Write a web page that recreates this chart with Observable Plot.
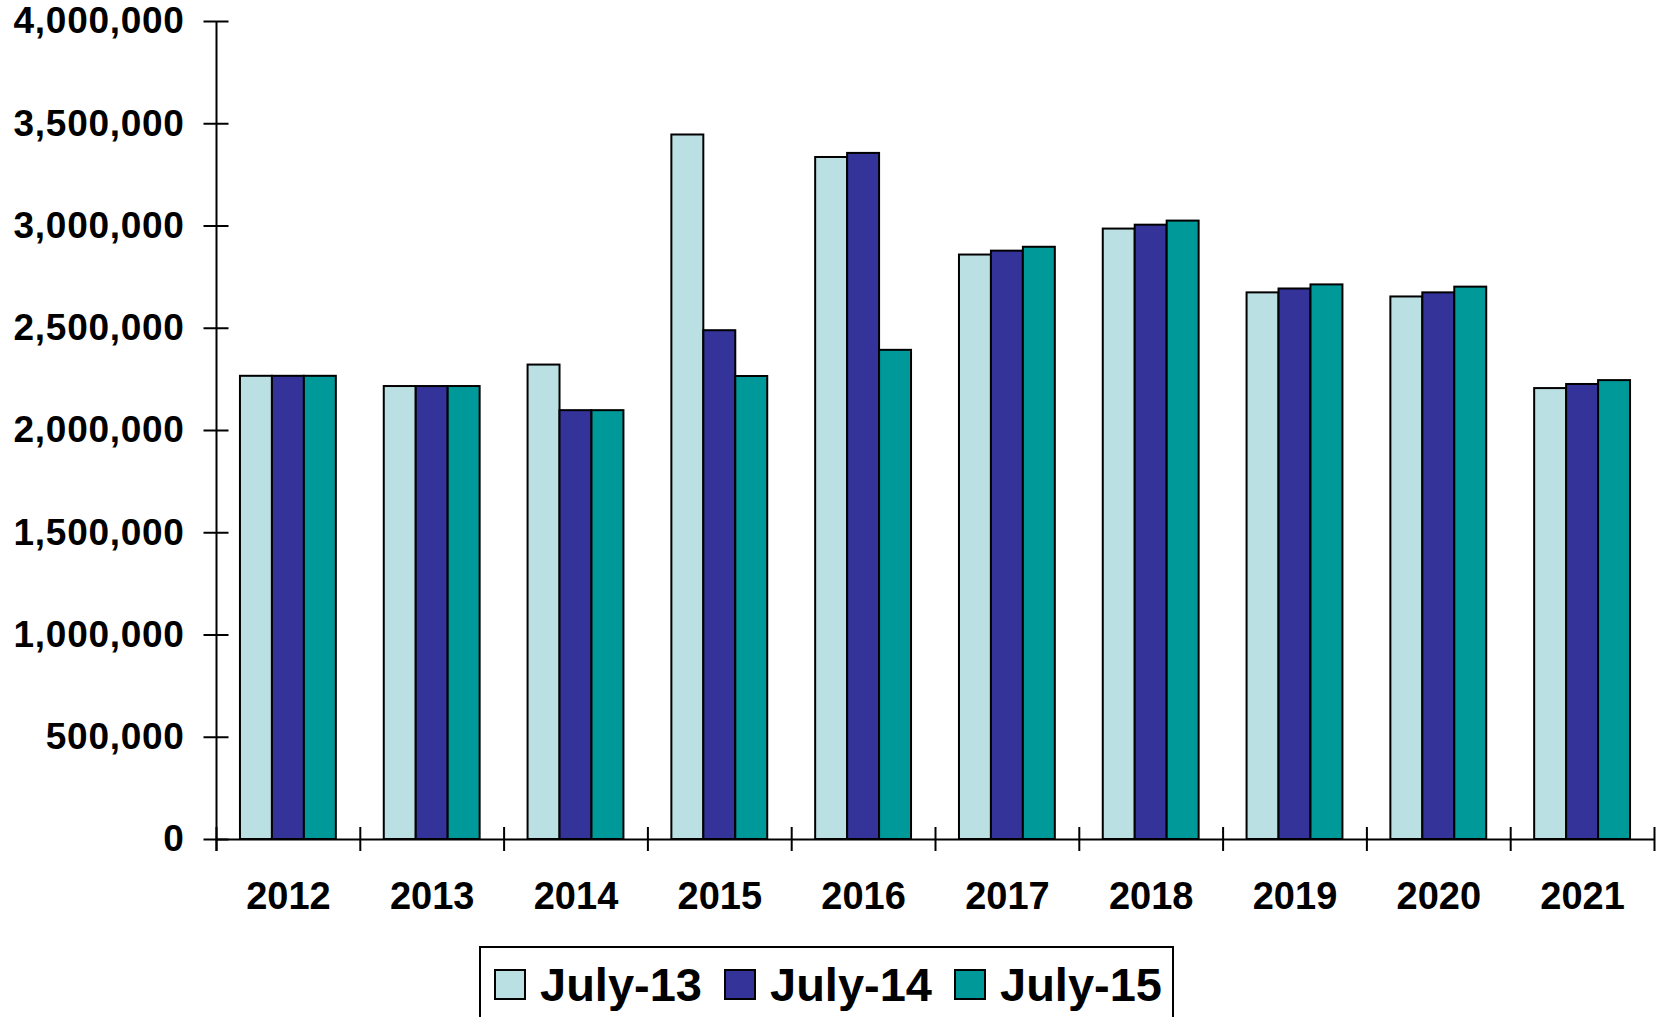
<!DOCTYPE html>
<html>
<head>
<meta charset="utf-8">
<script src="https://cdn.jsdelivr.net/npm/d3@7"></script>
<script src="https://cdn.jsdelivr.net/npm/@observablehq/plot@0.6"></script>
<style>
  html, body { margin: 0; padding: 0; background: #fff; overflow: hidden; }
  #chart svg { display: block; }
  #chart svg g[aria-label="y-axis tick label"] text { letter-spacing: 0.7px; }
  .legend {
    box-sizing: border-box;
    margin: 16px 0 0 479px;
    width: 695px;
    height: 80px;
    border: 2px solid #000;
    display: flex;
    padding: 21px 0 0 13px;
    font: bold 47px "Liberation Sans", Arial, sans-serif;
    color: #000;
  }
  .legend .item { width: 230px; height: 31px; display: flex; align-items: center; flex: none; }
  .legend .swatch { box-sizing: border-box; width: 32px; height: 31px; border: 2px solid #000; margin-right: 14px; flex: none; }
  .legend .label { line-height: 1; white-space: nowrap; }
</style>
</head>
<body>
<div id="chart"></div>
<div class="legend" id="legend"></div>
<script>
// Categories and series
const years = ["2012", "2013", "2014", "2015", "2016", "2017", "2018", "2019", "2020", "2021"];
const seriesNames = ["July-13", "July-14", "July-15"];
const seriesColors = ["#BBE0E3", "#333399", "#009999"];

const july13 = [2265000, 2215000, 2320000, 3445000, 3335000, 2858000, 2985000, 2673000, 2653000, 2205000];
const july14 = [2265000, 2215000, 2097000, 2488000, 3355000, 2877000, 3004000, 2692000, 2673000, 2225000];
const july15 = [2265000, 2215000, 2097000, 2264000, 2392000, 2896000, 3024000, 2712000, 2701000, 2244000];

const yTicks = [0, 500000, 1000000, 1500000, 2000000, 2500000, 3000000, 3500000, 4000000];

// Long table: one row per bar
const seriesValues = [july13, july14, july15];
const rows = [];
years.forEach((year, i) => {
  seriesNames.forEach((name, s) => {
    rows.push({i, s, year, series: name, value: seriesValues[s][i]});
  });
});

// Clustered layout: gap between clusters is 50% of a bar group
const gapWidth = 0.5;
const groupFrac = 1 / (1 + gapWidth);
const barFrac = groupFrac / seriesNames.length;
const lead = (1 - groupFrac) / 2;

const boundaries = d3.range(years.length + 1).map((k) => k - 0.5);
const font = '"Liberation Sans", Arial, sans-serif';

const chart = Plot.plot({
  width: 1658,
  height: 930,
  marginLeft: 216,
  marginRight: 4,
  marginTop: 21,
  marginBottom: 91,
  style: {fontFamily: font, fontWeight: "bold", fontSize: "37px", color: "#000", background: "#fff", overflow: "visible"},
  x: {domain: [-0.5, years.length - 0.5]},
  y: {domain: [0, 4000000]},
  color: {domain: seriesNames, range: seriesColors},
  marks: [
    Plot.rectY(rows, {
      x1: (d) => d.i - 0.5 + lead + d.s * barFrac,
      x2: (d) => d.i - 0.5 + lead + (d.s + 1) * barFrac,
      y1: 0,
      y2: "value",
      fill: "series",
      stroke: "#000",
      strokeWidth: 2
    }),
    // value axis line and crossing ticks
    Plot.ruleX([-0.5], {y1: 0, y2: 4000000, insetTop: 12, stroke: "#000", strokeWidth: 2}),
    Plot.ruleY(yTicks, {y: (d) => d, x1: -0.5, x2: -0.5, insetLeft: -12.5, insetRight: -12.5, stroke: "#000", strokeWidth: 2}),
    // category axis line and crossing ticks at cluster boundaries
    Plot.ruleY([0], {x1: -0.5, x2: years.length - 0.5, stroke: "#000", strokeWidth: 2}),
    Plot.ruleX(boundaries, {x: (d) => d, y1: 0, y2: 0, insetTop: -12, insetBottom: -12, stroke: "#000", strokeWidth: 2}),
    Plot.axisY(yTicks, {
      tickSize: 0,
      tickPadding: 32,
      tickFormat: d3.format(","),
      fontSize: 37,
      fontWeight: "bold",
      label: null
    }),
    Plot.axisX(d3.range(years.length), {
      tickSize: 0,
      tickPadding: 43,
      tickFormat: (i) => years[i],
      fontSize: 38,
      fontWeight: "bold",
      label: null
    })
  ]
});

document.getElementById("chart").append(chart);

// Legend below the chart
const legend = document.getElementById("legend");
seriesNames.forEach((name, s) => {
  const item = document.createElement("div");
  item.className = "item";
  const sw = document.createElement("span");
  sw.className = "swatch";
  sw.style.background = seriesColors[s];
  const lab = document.createElement("span");
  lab.className = "label";
  lab.textContent = name;
  item.append(sw, lab);
  legend.append(item);
});
</script>
</body>
</html>
